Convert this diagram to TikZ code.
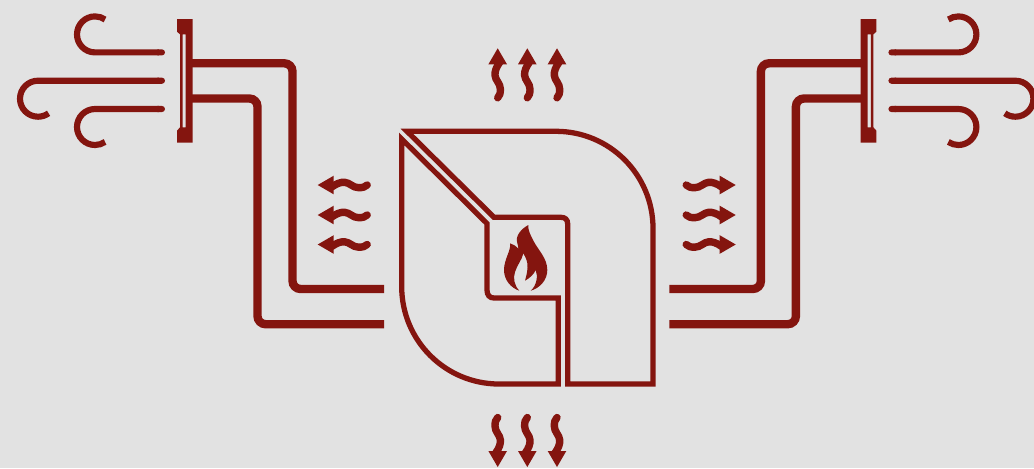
\documentclass[tikz,border=0pt]{standalone}
\usepackage{xcolor}
\usetikzlibrary{arrows.meta}

\definecolor{ductred}{HTML}{84150F}
\definecolor{backgray}{HTML}{E2E2E2}

\tikzset{
    duct/.style={draw=ductred,line width=4.76pt,rounded corners=4.6pt},
    windline/.style={draw=ductred,line width=3.5pt,{Round Cap}-},
    shell/.style={draw=ductred,line width=3pt,miter limit=10},
    heatarrow/.pic={
        \fill[ductred] (0,0) -- (16,-9.3) -- (16,9.3) -- cycle;
        \draw[ductred,line width=4.2pt,line cap=round] (14,2) .. controls (19,-1.5) and (23,-3) .. (27,-2.7) .. controls (32,-2.4) and (35,2.7) .. (41,2.7) .. controls (45,2.7) and (47.5,2) .. (49.5,0);
    }
}

% One side: ducts, damper, wind and heat, left side coordinates
\newcommand{\ductside}{
    % Ducts
    \draw[duct] (190,63.3) -- (292.5,63.3) -- (292.5,289) -- (384,289);
    \draw[duct] (190,98.5) -- (257.5,98.5) -- (257.5,324.2) -- (384,324.2);

    % Damper
    \fill[ductred,even odd rule] (177,19) -- (192.7,19) -- (192.7,142.7) -- (177,142.7) -- (177,130.7) -- (180,127.3) -- (180,34.3) -- (177,31.7) -- cycle
        (182.5,34.3) rectangle (185.7,127.3);

    % Wind
    \draw[windline] (165,52.4) -- (95,52.4) arc (90:304:18);
    \draw[windline] (165,80.7) -- (38,80.7) arc (270:54:18);
    \draw[windline] (165,109) -- (95,109) arc (270:56:18);

    % Heat
    \pic[transform shape] at (317.7,185) {heatarrow};
    \pic[transform shape] at (317.7,215) {heatarrow};
    \pic[transform shape] at (317.7,244.5) {heatarrow};
}

\begin{document}
\begin{tikzpicture}[x=0.02cm,y=-0.02cm]

% Background
\fill[backgray,use as bounding box] (0,0) rectangle (1034,468);

% Both sides
\ductside
\begin{scope}[shift={(1053.4,0)},xscale=-1]
    \ductside
\end{scope}

% Heat exchanger, upper and lower half
\draw[shell] (407,131.3) -- (556,131.3) arc (270:360:97) -- (653,384) -- (567.7,384) -- (567.7,224) .. controls (567.7,219.5) and (565,217.3) .. (561,217.3) -- (494,217.3) -- cycle;
\draw[shell] (401.7,139) -- (487,223.5) -- (487,290) .. controls (487,295) and (489.5,298) .. (494,298) -- (558.3,298) -- (558.3,384) -- (499,384) arc (90:180:97.3) -- cycle;

% Flame
\fill[ductred] (528.3,225) .. controls (521,229) and (515,236) .. (517.3,243) .. controls (517.8,245) and (518.2,247) .. (518.5,249) .. controls (516,246) and (513,244) .. (510,243.3) .. controls (511.5,250) and (504,259) .. (504,270) .. controls (504,280) and (511,288) .. (519.3,290.7) .. controls (514,285) and (513,278) .. (515,272) .. controls (517,265) and (522,260) .. (523.3,253.3) .. controls (526,258) and (528,262) .. (527.5,268) .. controls (527.2,273) and (526,277) .. (525,280.7) .. controls (530,278) and (534,274) .. (535.7,270) .. controls (538,276) and (537,285) .. (530.7,290.7) .. controls (540,288) and (547.3,280) .. (547.3,270) .. controls (547.3,258) and (538,250) .. (533,240) .. controls (530,234) and (528,230) .. (528.3,225) -- cycle;

% Heat up
\pic[rotate=-90,yscale=-1] at (497.7,48.3) {heatarrow};
\pic[rotate=-90,yscale=-1] at (527.3,48.3) {heatarrow};
\pic[rotate=-90,yscale=-1] at (557,48.3) {heatarrow};

% Heat down
\pic[rotate=90,yscale=-1] at (497.7,467) {heatarrow};
\pic[rotate=90,yscale=-1] at (527.3,467) {heatarrow};
\pic[rotate=90,yscale=-1] at (557,467) {heatarrow};

\end{tikzpicture}
\end{document}
